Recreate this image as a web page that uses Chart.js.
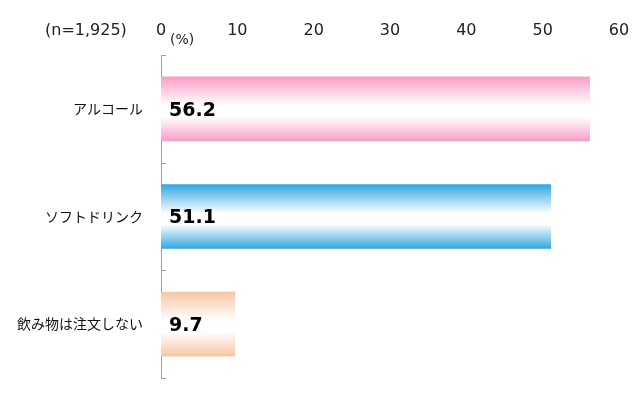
<!DOCTYPE html>
<html>
<head>
<meta charset="utf-8">
<script src="https://cdn.jsdelivr.net/npm/chart.js@4"></script>
<style>
  html, body { margin: 0; padding: 0; background: #fff; }
  #wrap { width: 633px; height: 394px; }
</style>
</head>
<body>
<div id="wrap"><canvas id="barChart" width="633" height="394"></canvas></div>
<script>
// DATA
const categories = ['アルコール', 'ソフトドリンク', '飲み物は注文しない'];
const values = [56.2, 51.1, 9.7];
const barColors = ['#f79dc6', '#2ea6e0', '#f6c6a3'];
const xTicks = [0, 10, 20, 30, 40, 50, 60];
const sampleNote = '(n=1,925)';
const unitNote = '(%)';

const numFont = '"DejaVu Sans", Verdana, sans-serif';
const jpFont = '"Noto Sans CJK JP", sans-serif';

// gradient fill: colour at top & bottom, white in the middle
const gradientBars = {
    id: 'gradientBars',
    beforeDatasetsDraw(chart) {
        const ctx = chart.ctx;
        chart.getDatasetMeta(0).data.forEach((bar, i) => {
            const top = bar.y - bar.height / 2;
            const bottom = bar.y + bar.height / 2;
            const g = ctx.createLinearGradient(0, top, 0, bottom);
            g.addColorStop(0, barColors[i]);
            g.addColorStop(0.45, '#ffffff');
            g.addColorStop(0.62, '#ffffff');
            g.addColorStop(1, barColors[i]);
            bar.options.backgroundColor = g;
        });
    }
};

// value labels, notes, and inward tick marks on the category axis
const extras = {
    id: 'extras',
    afterDatasetsDraw(chart) {
        const ctx = chart.ctx;
        const x = chart.scales.x;
        const y = chart.scales.y;
        ctx.save();
        ctx.fillStyle = '#000';
        ctx.font = 'bold 19px ' + numFont;
        ctx.textAlign = 'left';
        ctx.textBaseline = 'middle';
        chart.getDatasetMeta(0).data.forEach((bar, i) => {
            ctx.fillText(values[i].toFixed(1), x.getPixelForValue(0) + 8, bar.y + 2);
        });

        ctx.strokeStyle = '#a0a0a0';
        ctx.lineWidth = 1;
        for (let i = 0; i <= categories.length; i++) {
            const py = Math.round(y.getPixelForValue(i - 0.5)) + 0.5;
            ctx.beginPath();
            ctx.moveTo(x.left, py);
            ctx.lineTo(x.left + 5, py);
            ctx.stroke();
        }

        ctx.fillStyle = '#222';
        ctx.font = '16px ' + numFont;
        ctx.textAlign = 'left';
        ctx.fillText(sampleNote, 45, 31);
        ctx.font = '14px ' + numFont;
        ctx.fillText(unitNote, x.getPixelForValue(0) + 9, 40);
        ctx.restore();
    }
};

const barChart = document.getElementById('barChart');

new Chart(barChart, {
    type: 'bar',
    data: {
        labels: categories,
        datasets: [
            {
                label: '飲み物',
                data: values,
                backgroundColor: barColors,
                borderWidth: 0,
                categoryPercentage: 0.6,
                barPercentage: 1
            }
        ]
    },
    options: {
        indexAxis: 'y',
        responsive: false,
        animation: false,
        layout: { padding: { top: 0, right: 14, bottom: 16, left: 0 } },
        plugins: {
            legend: { display: false },
            tooltip: { enabled: false }
        },
        scales: {
            x: {
                position: 'top',
                min: 0,
                max: 60,
                afterBuildTicks(axis) {
                    axis.ticks = xTicks.map(v => ({ value: v }));
                },
                afterFit(axis) {
                    axis.height = 55;
                    axis.paddingLeft = 0;
                    axis.paddingRight = 0;
                },
                grid: { display: false, drawTicks: false },
                border: { display: false },
                ticks: {
                    color: '#222',
                    padding: 15,
                    font: { family: numFont, size: 16 }
                }
            },
            y: {
                afterFit(axis) {
                    axis.width = 161;
                    axis.paddingTop = 0;
                    axis.paddingBottom = 0;
                },
                grid: { display: false, drawTicks: false },
                border: { display: true, color: '#a0a0a0', width: 1 },
                ticks: {
                    color: '#111',
                    padding: 18,
                    font: { family: jpFont, size: 14 }
                }
            }
        }
    },
    plugins: [gradientBars, extras]
});
</script>
</body>
</html>
